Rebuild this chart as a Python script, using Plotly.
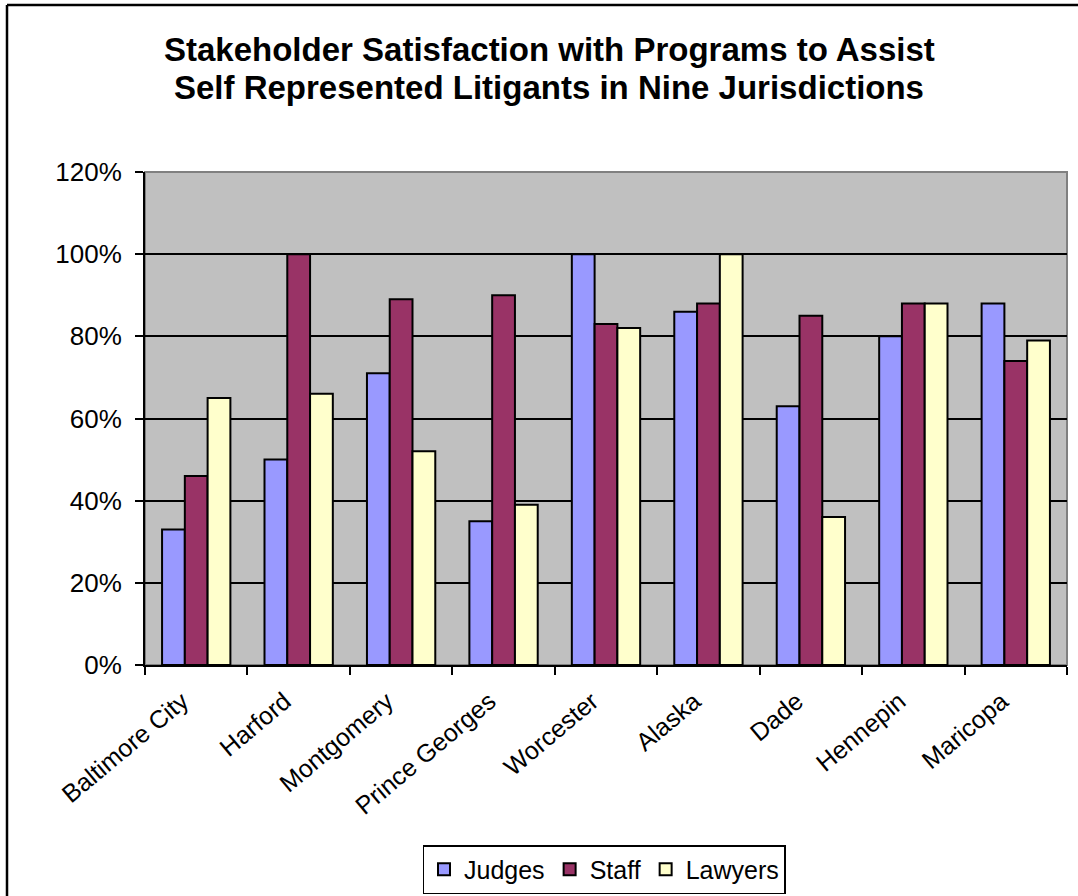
import plotly.graph_objects as go

categories = ["Baltimore City", "Harford", "Montgomery", "Prince Georges", "Worcester",
              "Alaska", "Dade", "Hennepin", "Maricopa"]
judges = [0.33, 0.50, 0.71, 0.35, 1.00, 0.86, 0.63, 0.80, 0.88]
staff = [0.46, 1.00, 0.89, 0.90, 0.83, 0.88, 0.85, 0.88, 0.74]
lawyers = [0.65, 0.66, 0.52, 0.39, 0.82, 1.00, 0.36, 0.88, 0.79]
series_names = ["Judges", "Staff", "Lawyers"]
colors = ["#9999FF", "#993366", "#FFFFCC"]
title_lines = ["Stakeholder Satisfaction with Programs to Assist",
               "Self Represented Litigants in Nine Jurisdictions"]

FONT = "Arial, 'Liberation Sans', sans-serif"

fig = go.Figure()
for name, vals, col in zip(series_names, [judges, staff, lawyers], colors):
    fig.add_trace(go.Bar(x=categories, y=vals, name=name,
                         marker=dict(color=col, line=dict(color="black", width=2))))

W, H = 1078, 896
L, R, T, B = 145, 11, 172, 231
pw, ph = W - L - R, H - T - B

def px_x(x):
    return (x - L) / pw

def px_y(y):
    return (H - B - y) / ph

fig.update_layout(
    width=W, height=H,
    margin=dict(l=L, r=R, t=T, b=B, pad=0, autoexpand=False),
    paper_bgcolor="white", plot_bgcolor="#C0C0C0",
    barmode="group", bargap=0.333, bargroupgap=0,
    font=dict(family=FONT, color="black", size=22),
    showlegend=True,
    legend=dict(orientation="h", x=px_x(604), xanchor="center", y=px_y(845), yanchor="top",
                bordercolor="black", borderwidth=1.5, bgcolor="white",
                font=dict(size=25, family=FONT), traceorder="normal",
                tracegroupgap=0),
)
fig.update_yaxes(range=[0, 1.2], dtick=0.2, tickformat=".0%", showgrid=True,
                 gridcolor="black", gridwidth=1.5, showline=True, linecolor="black",
                 linewidth=2, ticks="outside", ticklen=8, tickwidth=2, tickcolor="black",
                 tickfont=dict(size=26), zeroline=False, fixedrange=True,
                 ticklabelstandoff=8, automargin=False)
fig.update_xaxes(showline=True, linecolor="black", linewidth=2, ticks="outside",
                 tickson="boundaries", ticklen=8, tickwidth=2, tickcolor="black",
                 tickangle=-40, tickfont=dict(size=25), showgrid=False,
                 ticklabelstandoff=10, ticklabelshift=-14, automargin=False)

# plot area gray border
fig.add_shape(type="rect", xref="paper", yref="paper", x0=0, x1=1, y0=0, y1=1,
              line=dict(color="#808080", width=2), layer="below")
# outer chart border (top and left visible)
fig.add_shape(type="line", xref="paper", yref="paper", x0=px_x(7), x1=px_x(1080),
              y0=px_y(5), y1=px_y(5), line=dict(color="black", width=2.5))
fig.add_shape(type="line", xref="paper", yref="paper", x0=px_x(7), x1=px_x(7),
              y0=px_y(5), y1=px_y(900), line=dict(color="black", width=2.5))

for txt, yc in zip(title_lines, [50, 88]):
    fig.add_annotation(text="<b>" + txt + "</b>", xref="paper", yref="paper",
                       x=px_x(549), y=px_y(yc), xanchor="center", yanchor="middle",
                       showarrow=False, font=dict(size=33, family=FONT, color="black"))

fig.write_html("out.html")
